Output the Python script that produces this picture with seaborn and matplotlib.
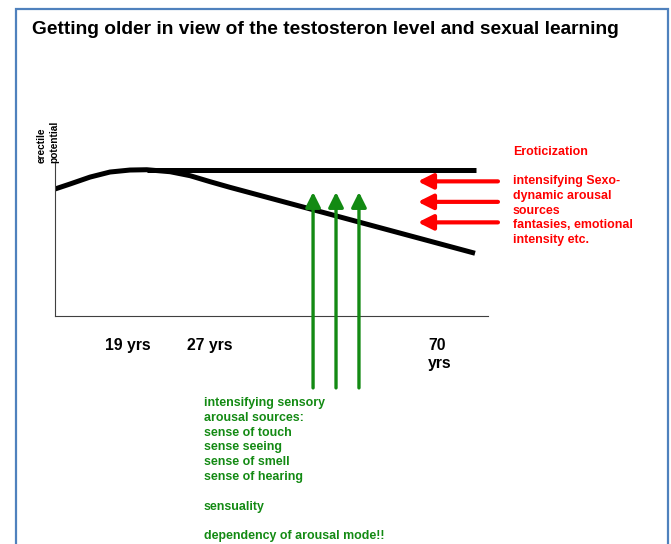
import matplotlib
matplotlib.use("Agg")
import matplotlib.pyplot as plt
import seaborn as sns
from matplotlib.patches import Rectangle

# ---- data (conceptual units: x = life course 0..100, y = erectile potential 0..100)
curve_x = [0, 3.5, 8.1, 12.7, 17.3, 21.2, 26.6, 31.2, 35.8, 40.4, 45.0, 97.0]
curve_y = [83.0, 86.3, 90.8, 94.1, 95.4, 95.6, 94.3, 91.7, 87.8, 84.1, 80.6, 41.0]
flat_x = [21.2, 97.2]
flat_y = [95.5, 95.5]

age_pos = [16.9, 35.8, 88.9]
age_labels = ["19 yrs", "27 yrs", "70\nyrs"]

green_x = [59.6, 64.9, 70.2]
green_from, green_to = -47, 81.0
red_y = [88.0, 74.6, 61.2]
red_from, red_to = 102.3, 83.8

title = "Getting older in view of the testosteron level and sexual learning"
red_lines = ["Eroticization", "", "intensifying Sexo-", "dynamic arousal",
             "sources", "fantasies, emotional", "intensity etc."]
green_lines = ["intensifying sensory", "arousal sources:", "sense of touch",
               "sense seeing", "sense of smell", "sense of hearing", "",
               "sensuality", "", "dependency of arousal mode!!"]

RED = "#ff0000"
GREEN = "#138a13"

sns.set_style("white")
plt.rcParams["font.family"] = ["Liberation Sans", "DejaVu Sans"]
plt.rcParams["font.weight"] = "bold"
plt.rcParams["text.color"] = "black"
plt.rcParams["xtick.color"] = "black"

W, H = 671, 544
fig = plt.figure(figsize=(W / 100, H / 100), dpi=100)


def px(x, y):
    return x / W, 1 - y / H


# slide frame
fig.patches.append(Rectangle(px(16, 560), (668 - 16) / W, (560 - 9) / H,
                             transform=fig.transFigure, fill=False,
                             edgecolor="#4f81bd", linewidth=1.6))

ax = fig.add_axes([55 / W, 1 - 316 / H, (488 - 55) / W, (316 - 163) / H])
ax.set_xlim(0, 100)
ax.set_ylim(0, 100)
sns.despine(ax=ax)
for s in ["left", "bottom"]:
    ax.spines[s].set_color("#404040")
    ax.spines[s].set_linewidth(0.8)
ax.patch.set_alpha(0)

line_kw = dict(color="black", linewidth=3.6, sort=False, estimator=None,
               solid_joinstyle="round", solid_capstyle="butt")
sns.lineplot(x=curve_x, y=curve_y, ax=ax, **line_kw)
sns.lineplot(x=flat_x, y=flat_y, ax=ax, **line_kw)

for gx in green_x:
    ax.annotate("", xy=(gx, green_to), xytext=(gx, green_from),
                annotation_clip=False,
                arrowprops=dict(arrowstyle="-|>,head_length=0.9,head_width=0.45",
                                color=GREEN, lw=2.4, shrinkA=0, shrinkB=0))
for ry in red_y:
    ax.annotate("", xy=(red_to, ry), xytext=(red_from, ry),
                annotation_clip=False,
                arrowprops=dict(arrowstyle="-|>,head_length=0.9,head_width=0.45",
                                color=RED, lw=3.0, shrinkA=0, shrinkB=0))

ax.set_xticks(age_pos)
ax.set_xticklabels(age_labels, fontsize=11.3, fontweight="bold",
                   multialignment="left", va="top", color="black")
ax.tick_params(axis="x", length=0, pad=16)
ax.set_yticks([])

fig.text(*px(48, 163), "erectile\npotential", rotation=90, fontsize=7.3,
         fontweight="bold", ha="center", va="bottom", multialignment="left",
         linespacing=1.4, color="black")

fig.text(*px(32, 30), title, fontsize=13.8, fontweight="bold", ha="left",
         va="center", color="black")

for i, line in enumerate(red_lines):
    if line:
        fig.text(*px(513, 152 + i * 14.7), line, fontsize=8.9, color=RED,
                 fontweight="bold", ha="left", va="center")
for i, line in enumerate(green_lines):
    if line:
        fig.text(*px(204, 403 + i * 14.8), line, fontsize=8.9, color=GREEN,
                 fontweight="bold", ha="left", va="center")

fig.savefig("out.png", dpi=100)
